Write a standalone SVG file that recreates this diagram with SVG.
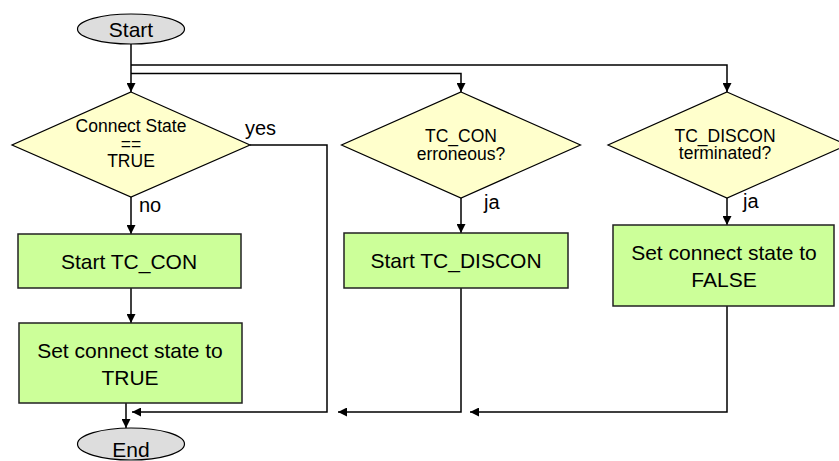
<svg xmlns="http://www.w3.org/2000/svg" width="839" height="461" viewBox="0 0 839 461">
  <defs>
    <marker id="arrow" viewBox="0 0 10 10" refX="10" refY="5" markerUnits="userSpaceOnUse" markerWidth="9" markerHeight="9" orient="auto">
      <path d="M0,0 L10,5 L0,10 z" fill="#000"/>
    </marker>
    <style>
      .terminal { fill: #dddddd; stroke: #000; stroke-width: 1.2; }
      .decision { fill: #ffffcc; stroke: #000; stroke-width: 1.2; }
      .process { fill: #ccff99; stroke: #222; stroke-width: 1.5; }
      .edge-arrow { fill: none; stroke: #000; stroke-width: 1.5; marker-end: url(#arrow); }
      text { font-family: "Liberation Sans", Arial, sans-serif; fill: #000; }
      .t-main { font-size: 21px; text-anchor: middle; }
      .t-cond { font-size: 17.5px; text-anchor: middle; }
      .t-label { font-size: 20px; }
    </style>
  </defs>

  <rect width="839" height="461" fill="#fff"/>

  <!-- connectors -->
  <g id="connectors">
    <path class="edge-arrow" d="M131,44 V92"/>
    <path class="edge-arrow" d="M131,65 H727 V92"/>
    <path class="edge-arrow" d="M131,73.5 H461 V92"/>
    <path class="edge-arrow" d="M131,197 V234"/>
    <path class="edge-arrow" d="M131,288 V323"/>
    <path class="edge-arrow" d="M126,403 V428"/>
    <path class="edge-arrow" d="M250,145 H327 V412 H132"/>
    <path class="edge-arrow" d="M461,198 V233"/>
    <path class="edge-arrow" d="M461,288 V412 H338"/>
    <path class="edge-arrow" d="M727,198 V225"/>
    <path class="edge-arrow" d="M727,306 V412 H470"/>
    <text class="t-label" x="245" y="135">yes</text>
    <text class="t-label" x="139" y="212">no</text>
    <text class="t-label" x="484" y="209">ja</text>
    <text class="t-label" x="743" y="208">ja</text>
  </g>

  <g id="start">
    <ellipse class="terminal" cx="131" cy="29" rx="53.5" ry="15"/>
    <text class="t-main" x="131" y="37">Start</text>
  </g>

  <g id="check-connect-state">
    <polygon class="decision" points="131,92 250,145 131,197 12,145"/>
    <text class="t-cond" x="131" y="132">Connect State</text>
    <text class="t-cond" x="131" y="150">==</text>
    <text class="t-cond" x="131" y="167">TRUE</text>
  </g>

  <g id="check-tc-con">
    <polygon class="decision" points="461,92 580.5,145 461,198 341.5,145"/>
    <text class="t-cond" x="461" y="142">TC_CON</text>
    <text class="t-cond" x="461" y="160">erroneous?</text>
  </g>

  <g id="check-tc-discon">
    <polygon class="decision" points="727,92 847,145 727,198 608,145"/>
    <text class="t-cond" x="725" y="142">TC_DISCON</text>
    <text class="t-cond" x="725" y="159">terminated?</text>
  </g>

  <g id="start-tc-con">
    <rect class="process" x="18" y="234" width="223" height="54"/>
    <text class="t-main" x="129" y="269">Start TC_CON</text>
  </g>

  <g id="set-true">
    <rect class="process" x="19" y="323" width="223" height="80"/>
    <text class="t-main" x="130" y="358">Set connect state to</text>
    <text class="t-main" x="130" y="385">TRUE</text>
  </g>

  <g id="start-tc-discon">
    <rect class="process" x="344" y="233" width="224" height="55"/>
    <text class="t-main" x="456" y="268">Start TC_DISCON</text>
  </g>

  <g id="set-false">
    <rect class="process" x="613" y="225" width="221" height="81"/>
    <text class="t-main" x="724" y="260">Set connect state to</text>
    <text class="t-main" x="724" y="287">FALSE</text>
  </g>

  <g id="end">
    <ellipse class="terminal" cx="131" cy="444" rx="53.5" ry="16"/>
    <text class="t-main" x="131" y="457">End</text>
  </g>
</svg>
